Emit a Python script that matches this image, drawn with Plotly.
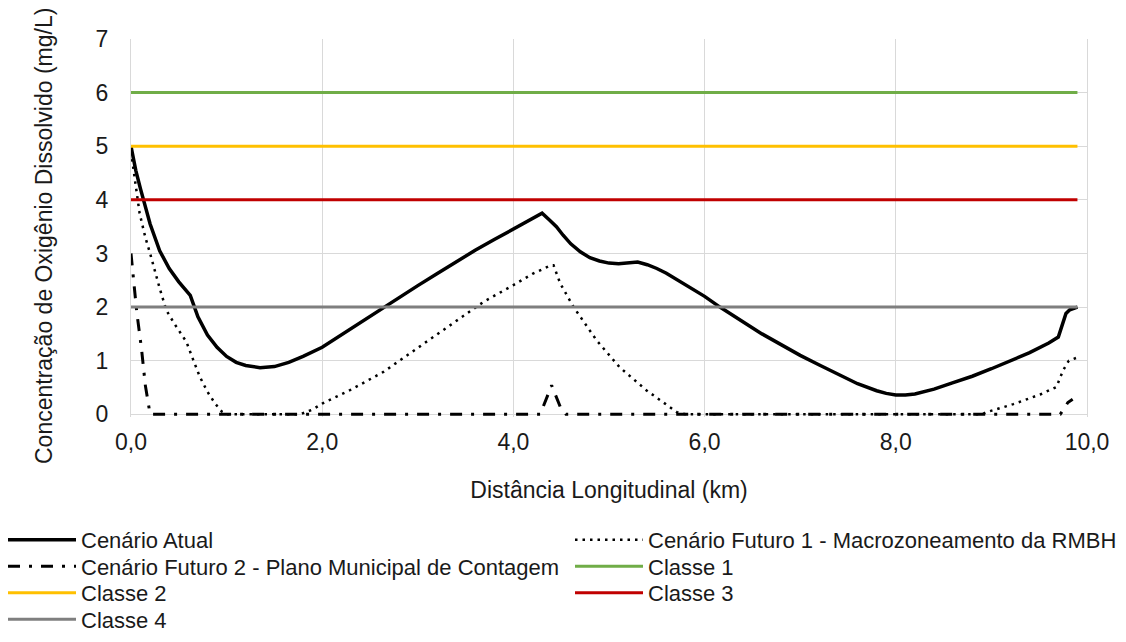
import plotly.graph_objects as go

# Distância (km) x OD (mg/L)
atual_x = [0.00, 0.05, 0.10, 0.13, 0.20, 0.30, 0.40, 0.50, 0.60, 0.62, 0.70, 0.80, 0.90,
           1.00, 1.10, 1.20, 1.35, 1.50, 1.65, 1.80, 2.00, 2.20, 2.40, 2.60, 2.80, 3.00,
           3.20, 3.40, 3.60, 3.80, 4.00, 4.20, 4.30, 4.38, 4.45, 4.52, 4.60, 4.70, 4.80,
           4.90, 5.00, 5.10, 5.20, 5.30, 5.40, 5.50, 5.60, 5.70, 5.80, 6.00, 6.16, 6.40,
           6.60, 6.80, 7.00, 7.20, 7.40, 7.60, 7.80, 7.90, 8.00, 8.10, 8.20, 8.40, 8.60,
           8.80, 9.00, 9.20, 9.40, 9.60, 9.70, 9.78, 9.82, 9.90]
atual_y = [5.00, 4.55, 4.20, 4.00, 3.55, 3.05, 2.72, 2.47, 2.27, 2.22, 1.82, 1.48, 1.25,
           1.08, 0.97, 0.91, 0.87, 0.89, 0.97, 1.08, 1.25, 1.48, 1.72, 1.95, 2.17, 2.40,
           2.62, 2.84, 3.06, 3.26, 3.46, 3.65, 3.75, 3.62, 3.50, 3.34, 3.18, 3.03, 2.92,
           2.86, 2.82, 2.81, 2.82, 2.84, 2.79, 2.72, 2.63, 2.52, 2.42, 2.20, 2.00, 1.72,
           1.50, 1.30, 1.10, 0.92, 0.74, 0.57, 0.44, 0.39, 0.36, 0.36, 0.38, 0.47, 0.59,
           0.71, 0.85, 1.00, 1.15, 1.33, 1.44, 1.88, 1.95, 2.00]

fut1_x = [0.00, 0.05, 0.09, 0.15, 0.20, 0.30, 0.37, 0.45, 0.52, 0.58, 0.65, 0.72, 0.80,
          0.88, 0.95, 1.00, 1.77, 1.80, 1.90, 2.00, 2.29, 2.64, 2.99, 3.34, 3.69, 4.00,
          4.20, 4.38, 4.42, 4.49, 4.63, 4.87, 5.11, 5.39, 5.60, 5.71, 5.80, 8.90, 8.95,
          9.23, 9.51, 9.68, 9.75, 9.81, 9.90]
fut1_y = [4.90, 4.30, 3.75, 3.30, 3.00, 2.35, 1.94, 1.70, 1.50, 1.35, 1.02, 0.70, 0.42,
          0.20, 0.05, 0.00, 0.00, 0.02, 0.09, 0.20, 0.45, 0.79, 1.23, 1.66, 2.10, 2.41,
          2.62, 2.77, 2.78, 2.44, 2.00, 1.38, 0.88, 0.45, 0.18, 0.04, 0.00, 0.00, 0.04,
          0.19, 0.37, 0.51, 0.82, 1.00, 1.06]

fut2_x = [0.00, 0.02, 0.06, 0.11, 0.15, 0.20, 4.28, 4.40, 4.49, 4.55, 9.72, 9.80, 9.85]
fut2_y = [3.00, 2.62, 1.91, 1.22, 0.54, 0.00, 0.00, 0.54, 0.14, 0.00, 0.00, 0.22, 0.28]

classe_x = [0.0, 9.9]
classe_nomes = ["Classe 1", "Classe 2", "Classe 3", "Classe 4"]
classe_valores = [6, 5, 4, 2]
classe_cores = ["#70ad47", "#ffc000", "#c00000", "#7f7f7f"]

familia = "Liberation Sans, Arial, sans-serif"
fonte = dict(family=familia, size=23, color="#1a1a1a")
fonte_leg = dict(family=familia, size=22, color="#1a1a1a")

# área do gráfico (px da figura)
esq, topo, larg = 123, 31, 956
base = 642 - 233

fig = go.Figure()
fig.add_trace(go.Scatter(x=atual_x, y=atual_y, mode="lines", name="Cenário Atual",
                         line=dict(color="black", width=3.5)))
fig.add_trace(go.Scatter(x=fut1_x, y=fut1_y, mode="lines",
                         name="Cenário Futuro 1 - Macrozoneamento da RMBH",
                         line=dict(color="black", width=2.5, dash="2.5px,5px")))
fig.add_trace(go.Scatter(x=fut2_x, y=fut2_y, mode="lines",
                         name="Cenário Futuro 2 - Plano Municipal de Contagem",
                         line=dict(color="black", width=3, dash="12px,9px,3px,9px")))
for nome, val, cor in zip(classe_nomes, classe_valores, classe_cores):
    fig.add_trace(go.Scatter(x=classe_x, y=[val, val], mode="lines", name=nome,
                             line=dict(color=cor, width=3)))

# legenda em duas colunas: uma legenda por item, em grade
col_px = [-5, 562]
lin_px = [532, 558.5, 585, 611.5]
legs = {}
for i, tr in enumerate(fig.data):
    chave = "legend" if i == 0 else f"legend{i + 1}"
    tr.legend = chave
    legs[chave] = dict(xref="paper", yref="container",
                       x=(col_px[i % 2] - esq) / larg, y=1 - lin_px[i // 2] / 642,
                       xanchor="left", yanchor="middle", font=fonte_leg,
                       itemwidth=68, bgcolor="rgba(0,0,0,0)")

fig.update_layout(
    width=1126, height=642,
    margin=dict(l=esq, r=1126 - esq - larg, t=topo, b=642 - base, autoexpand=False),
    paper_bgcolor="white", plot_bgcolor="white",
    font=fonte,
    separators=",.",
    showlegend=True,
    **legs,
)
fig.add_annotation(text="Concentração de Oxigênio Dissolvido (mg/L)", textangle=-90,
                   xref="paper", yref="paper", x=(36 - esq) / larg,
                   y=(base - 228) / (base - topo),
                   xanchor="center", yanchor="middle", showarrow=False, font=fonte)
fig.update_xaxes(range=[0, 10], dtick=2, tick0=0, tickformat=".1f",
                 showgrid=True, gridcolor="#d9d9d9", gridwidth=1.3, zeroline=False,
                 showline=False, ticks="", ticklabelstandoff=9,
                 title=dict(text="Distância Longitudinal (km)", font=fonte, standoff=27))
fig.update_yaxes(range=[-0.05, 7.0], dtick=1, tick0=0,
                 showgrid=True, gridcolor="#d9d9d9", gridwidth=1.3, zeroline=False,
                 showline=True, mirror=True, linecolor="#d9d9d9", linewidth=1.3,
                 ticks="", ticklabelstandoff=17)

fig.write_html("out.html")
